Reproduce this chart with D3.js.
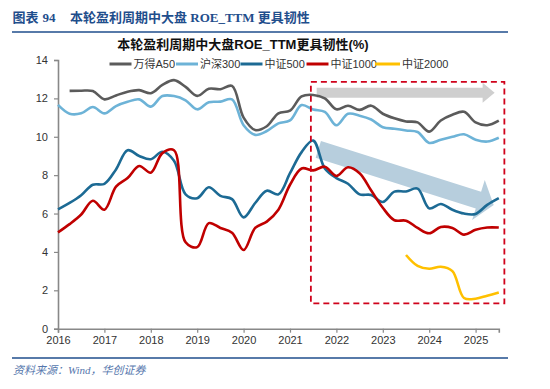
<!DOCTYPE html>
<html><head><meta charset="utf-8">
<script src="https://cdn.jsdelivr.net/npm/d3@7/dist/d3.min.js"></script>
<style>body{margin:0;background:#fff}svg{display:block}</style>
</head><body>
<svg id="c" width="550" height="389"></svg>
<script>
// ---- data (quarterly, 2016.0 .. 2025.5) ----
const periods = d3.range(0, 39).map(i => 2016 + i / 4);
const xTicks = [2016, 2017, 2018, 2019, 2020, 2021, 2022, 2023, 2024, 2025];
const yTicks = [0, 2, 4, 6, 8, 10, 12, 14];
const seriesNames = ["万得A50", "沪深300", "中证500", "中证1000", "中证2000"];
const a50 = [null, 12.39, 12.4, 12.38, 11.95, 12.15, 12.35, 12.43, 12.27, 12.7,
  12.95, 12.6, 12.13, 12.5, 12.48, 12.65, 11.0, 10.35, 10.55, 11.22,
  11.36, 12.1, 12.18, 12.0, 11.43, 11.62, 11.4, 11.62, 11.2, 10.96,
  10.8, 10.75, 10.27, 10.85, 11.15, 11.3, 10.75, 10.6, 10.84];
const hs300 = [11.66, 11.2, 11.22, 11.55, 11.22, 11.6, 11.82, 11.95, 11.57, 12.12,
  12.12, 11.9, 11.43, 11.8, 11.83, 11.95, 10.6, 10.1, 10.3, 10.7,
  10.85, 11.65, 11.42, 11.3, 10.6, 11.2, 11.1, 10.9, 10.5, 10.42,
  10.33, 10.25, 9.68, 9.85, 10.0, 10.13, 9.85, 9.75, 9.95];
const zz500 = [6.22, 6.55, 6.95, 7.5, 7.55, 8.3, 9.3, 9.0, 8.83, 9.22,
  8.75, 7.0, 6.8, 7.37, 6.92, 6.75, 5.8, 6.55, 7.19, 7.0,
  8.1, 9.2, 9.8, 8.35, 7.85, 7.55, 7.0, 6.97, 6.6, 7.14,
  7.15, 7.3, 6.27, 6.5, 6.2, 6.0, 5.98, 6.45, 6.8];
const zz1000 = [5.02, 5.45, 5.95, 6.67, 6.2, 7.4, 7.85, 8.48, 8.13, 9.15,
  9.3, 4.5, 4.25, 5.5, 5.25, 5.0, 4.1, 5.25, 5.58, 6.2,
  7.5, 8.35, 8.25, 8.44, 7.96, 8.41, 8.1, 7.2, 6.3, 5.65,
  5.63, 5.25, 4.97, 5.3, 5.25, 4.9, 5.15, 5.27, 5.27];
const zz2000 = [null, null, null, null, null, null, null, null, null, null,
  null, null, null, null, null, null, null, null, null, null,
  null, null, null, null, null, null, null, null, null, null,
  3.84, 3.27, 3.12, 3.23, 3.0, 1.6, 1.56, 1.72, 1.88];
// annotations in data units
const boxArea = {t0: 2021.45, t1: 2025.62, v0: 1.32, v1: 12.86};
const grayArrow = {t0: 2021.575, v0: 12.29, t1: 2025.41, v1: 12.29};
const blueArrow = {t0: 2021.61, v0: 9.34, t1: 2025.39, v1: 6.45};

const colors = ["#5b5b5b", "#6db3d7", "#1c6a94", "#c00000", "#ffc000"];
const seriesData = [a50, hs300, zz500, zz1000, zz2000];

const svg = d3.select("#c");
const x = d3.scaleLinear().domain([2016, 2025.5]).range([58, 498.8]);
const y = d3.scaleLinear().domain([0, 14]).range([328.7, 60]);

// header
const hdrColor = "#1f4e8c";
const hdrFont = "'Liberation Serif','Noto Sans CJK SC',serif";
[["图表", 12.5], ["94", 42.5], ["本轮盈利周期中大盘 ROE_TTM 更具韧性", 70]].forEach(([s, px]) => {
  svg.append("text").attr("x", px).attr("y", 21.5)
    .attr("font-family", hdrFont)
    .attr("font-weight", "bold").attr("font-size", 13).attr("fill", hdrColor)
    .text(s);
});
svg.append("line").attr("x1", 12).attr("x2", 508).attr("y1", 32).attr("y2", 32)
  .attr("stroke", hdrColor).attr("stroke-width", 1.6);
svg.append("line").attr("x1", 12).attr("x2", 508).attr("y1", 358).attr("y2", 358)
  .attr("stroke", hdrColor).attr("stroke-width", 1.6);
svg.append("text").attr("x", 13).attr("y", 374)
  .attr("font-family", hdrFont)
  .attr("font-style", "italic").attr("font-size", 11).attr("fill", "#5677ad")
  .text("资料来源：Wind，华创证券");

// chart title
svg.append("text").attr("x", 243).attr("y", 49).attr("text-anchor", "middle")
  .attr("font-family", "'Liberation Sans','Noto Sans CJK SC',sans-serif")
  .attr("font-weight", "bold").attr("font-size", 13).attr("fill", "#111")
  .text("本轮盈利周期中大盘ROE_TTM更具韧性(%)");

// axes
const axisColor = "#888";
const gy = svg.append("g").attr("transform", `translate(${x.range()[0]},0)`)
  .call(d3.axisLeft(y).tickValues(yTicks).tickSize(4).tickPadding(6).tickFormat(d3.format("d")));
const gx = svg.append("g").attr("transform", `translate(0,${y(0)})`)
  .call(d3.axisBottom(x).tickValues(xTicks).tickSize(4).tickPadding(4).tickFormat(d3.format("d")));
[gx, gy].forEach(g => {
  g.select(".domain").attr("stroke", axisColor).attr("stroke-width", 1.6);
  g.selectAll(".tick line").attr("stroke", axisColor).attr("stroke-width", 1.2);
  g.selectAll("text").attr("font-family", "'Liberation Sans',Arial,sans-serif")
    .attr("font-size", 11).attr("fill", "#333");
});

// arrows (under lines)
function arrowPath(a, shaftHalf, headHalf, headLen) {
  const x0 = x(a.t0), y0 = y(a.v0), x1 = x(a.t1), y1 = y(a.v1);
  const dx = x1 - x0, dy = y1 - y0, L = Math.hypot(dx, dy);
  const ux = dx / L, uy = dy / L, nx = -uy, ny = ux;
  const bx = x1 - ux * headLen, by = y1 - uy * headLen;
  const pts = [
    [x0 + nx * shaftHalf, y0 + ny * shaftHalf],
    [bx + nx * shaftHalf, by + ny * shaftHalf],
    [bx + nx * headHalf, by + ny * headHalf],
    [x1, y1],
    [bx - nx * headHalf, by - ny * headHalf],
    [bx - nx * shaftHalf, by - ny * shaftHalf],
    [x0 - nx * shaftHalf, y0 - ny * shaftHalf]
  ];
  return "M" + pts.map(p => p.join(",")).join("L") + "Z";
}
svg.append("path").attr("d", arrowPath(grayArrow, 5, 10, 12)).attr("fill", "#cfcfcf");
svg.append("path").attr("d", arrowPath(blueArrow, 8.8, 21, 16)).attr("fill", "#b7cedd");

// lines
const line = d3.line()
  .defined(d => d.v != null)
  .x(d => x(d.t)).y(d => y(d.v))
  .curve(d3.curveCatmullRom.alpha(0.5));
seriesData.forEach((s, k) => {
  svg.append("path")
    .datum(periods.map((t, i) => ({t, v: s[i]})))
    .attr("d", line).attr("fill", "none")
    .attr("stroke", colors[k]).attr("stroke-width", 2.6)
    .attr("stroke-linejoin", "round").attr("stroke-linecap", "butt");
});

// dashed box
svg.append("rect")
  .attr("x", x(boxArea.t0)).attr("y", y(boxArea.v1))
  .attr("width", x(boxArea.t1) - x(boxArea.t0))
  .attr("height", y(boxArea.v0) - y(boxArea.v1))
  .attr("fill", "none").attr("stroke", "#d0021b").attr("stroke-width", 1.8)
  .attr("stroke-dasharray", "6,4");

// legend
const legendX = [109.5, 176, 240.5, 306.5, 375];
const legendLen = [22, 22, 22, 22, 25];
const lg = svg.append("g");
seriesNames.forEach((n, k) => {
  lg.append("line").attr("x1", legendX[k]).attr("x2", legendX[k] + legendLen[k])
    .attr("y1", 64).attr("y2", 64).attr("stroke", colors[k]).attr("stroke-width", 3);
  lg.append("text").attr("x", legendX[k] + legendLen[k] + 2).attr("y", 68)
    .attr("font-family", "'Liberation Sans','Noto Sans CJK SC',sans-serif")
    .attr("font-size", 11).attr("fill", "#333").text(n);
});
</script>
</body></html>
